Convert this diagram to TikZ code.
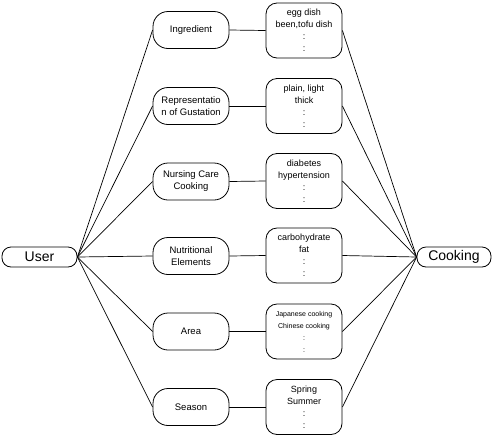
\documentclass[tikz,border=0pt]{standalone}
\usepackage{fontspec}
\setmainfont{Liberation Sans}
\begin{document}
\begin{tikzpicture}[x=1pt,y=-1pt,
  every path/.style={line width=0.8pt},
  endbox/.style={draw,rounded corners=9pt,minimum width=75pt,minimum height=20pt,inner sep=0pt,font=\fontsize{14}{16}\selectfont},
  catbox/.style={draw,rounded corners=15pt,minimum width=76pt,minimum height=37pt,inner sep=0pt,align=center,font=\fontsize{9.5}{12}\selectfont},
  valbox/.style={draw,rounded corners=11pt,minimum width=76pt,minimum height=55pt,inner sep=0pt,align=center,font=\fontsize{9}{12}\selectfont},
  link/.style={draw,line width=0.7pt}]
\useasboundingbox (0,0) rectangle (495,437);
\node[endbox] (user) at (39.5,257) {User};
\node[endbox,minimum width=74pt] (cook) at (454,257) {Cooking};

\node[catbox] (c1) at (191,30) {Ingredient};
\node[catbox] (c2) at (191,106) {Representatio\\n of Gustation};
\node[catbox] (c3) at (191,181.5) {Nursing Care\\Cooking};
\node[catbox] (c4) at (191,256) {Nutritional\\Elements};
\node[catbox] (c5) at (191,331.5) {Area};
\node[catbox] (c6) at (191,407) {Season};

\node[valbox] (v1) at (304,30.5) {egg dish\\been,tofu dish\\:\\:};
\node[valbox] (v2) at (304,106) {plain, light\\thick\\:\\:};
\node[valbox] (v3) at (304,181) {diabetes\\hypertension\\:\\:};
\node[valbox] (v4) at (304,255.5) {carbohydrate\\fat\\:\\:};
\node[valbox,font=\fontsize{7}{12}\selectfont] (v5) at (304,331.5) {Japanese cooking\\Chinese cooking\\:\\:};
\node[valbox] (v6) at (304,407) {Spring\\Summer\\:\\:};

\foreach \i in {1,...,6}{
  \draw[link] (user.east) -- (c\i.west);
  \draw[link] (c\i.east) -- (v\i.west);
  \draw[link] (v\i.east) -- (cook.west);
}
\end{tikzpicture}
\end{document}
